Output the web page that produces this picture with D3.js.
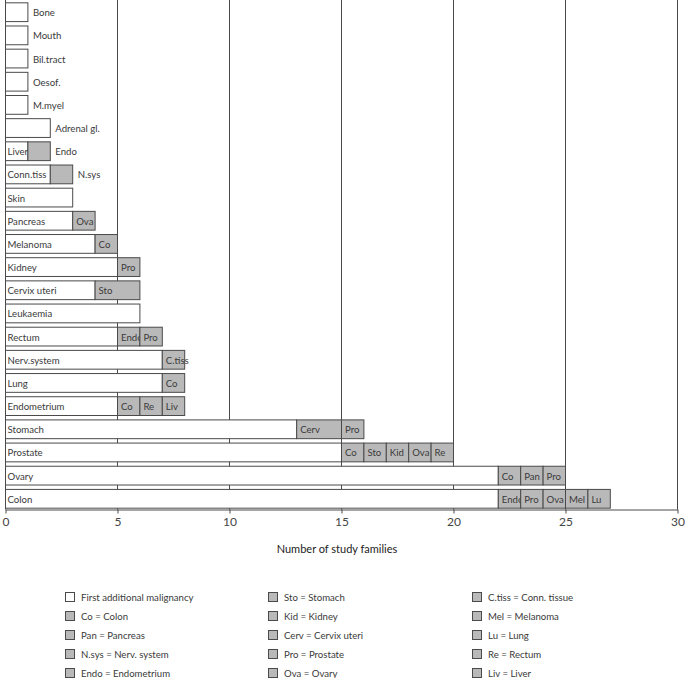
<!DOCTYPE html>
<html><head><meta charset="utf-8">
<script src="https://cdn.jsdelivr.net/npm/d3@7"></script>
<style>body{margin:0;background:#fff;} svg{display:block;}</style>
</head><body>
<script>
const categories = ["Bone","Mouth","Bil.tract","Oesof.","M.myel","Adrenal gl.","Liver","Conn.tiss","Skin","Pancreas","Melanoma","Kidney","Cervix uteri","Leukaemia","Rectum","Nerv.system","Lung","Endometrium","Stomach","Prostate","Ovary","Colon"];
const firstValues = [1,1,1,1,1,2,1,2,3,3,4,5,4,6,5,7,7,5,13,15,22,22];
const addCodes = [[],[],[],[],[],[],["Endo"],["N.sys"],[],["Ova"],["Co"],["Pro"],["Sto"],[],["Endo","Pro"],["C.tiss"],["Co"],["Co","Re","Liv"],["Cerv","Pro"],["Co","Sto","Kid","Ova","Re"],["Co","Pan","Pro"],["Endo","Pro","Ova","Mel","Lu"]];
const addValues = [[],[],[],[],[],[],[1],[1],[],[1],[1],[1],[2],[],[1,1],[1],[1],[1,1,1],[2,1],[1,1,1,1,1],[1,1,1],[1,1,1,1,1]];
const outsideCategoryLabels = ["Bone","Mouth","Bil.tract","Oesof.","M.myel","Adrenal gl."];
const outsideAddLabels = ["Liver","Conn.tiss"];
const xTicks = [0,5,10,15,20,25,30];
const xTitle = "Number of study families";
const legendItems = ["First additional malignancy","Co = Colon","Pan = Pancreas","N.sys = Nerv. system","Endo = Endometrium","Sto = Stomach","Kid = Kidney","Cerv = Cervix uteri","Pro = Prostate","Ova = Ovary","C.tiss = Conn. tissue","Mel = Melanoma","Lu = Lung","Re = Rectum","Liv = Liver"];

const W = 685, H = 678;
const FONT = "Lato, 'DejaVu Sans', sans-serif";
const GRAY = "#b9b9b9", STROKE = "#4a4a4a", TXT = "#3a3a3a";
const svg = d3.select("body").append("svg").attr("width", W).attr("height", H);

const x = d3.scaleLinear().domain([0, 30]).range([5.5, 677.5]);
const axisY = 509.5;
const y = d3.scaleBand().domain(categories).range([0.5, 510.5]).paddingInner(0.19).paddingOuter(0.1);

// gridlines
svg.append("g").selectAll("line").data(xTicks.filter(t => t > 0)).join("line")
  .attr("x1", d => x(d)).attr("x2", d => x(d)).attr("y1", 0).attr("y2", axisY)
  .attr("stroke", STROKE).attr("stroke-width", 1);
svg.append("line").attr("x1", x(0)).attr("x2", x(0)).attr("y1", 0).attr("y2", axisY)
  .attr("stroke", STROKE).attr("stroke-width", 1);

const rows = svg.append("g");
categories.forEach((c, i) => {
  const g = rows.append("g");
  const top = y(c), bh = y.bandwidth(), cy = top + bh / 2 + 0.5;
  const fv = firstValues[i];
  g.append("rect").attr("x", x(0)).attr("y", top).attr("width", x(fv) - x(0)).attr("height", bh)
    .attr("fill", "#fff").attr("stroke", STROKE).attr("stroke-width", 1);
  const outside = outsideCategoryLabels.includes(c);
  let cum = fv;
  const segs = addCodes[i].map((code, j) => { const s = {code, x0: cum, x1: cum + addValues[i][j]}; cum += addValues[i][j]; return s; });
  g.append("text").attr("x", outside ? x(fv) + 5 : x(0) + 2) .attr("y", cy)
    .attr("dominant-baseline", "central").attr("font-family", FONT).attr("font-size", 9.6)
    .attr("fill", TXT).text(c);
  segs.forEach((s, k) => {
    g.append("rect").attr("x", x(s.x0)).attr("y", top).attr("width", x(s.x1) - x(s.x0)).attr("height", bh)
      .attr("fill", GRAY).attr("stroke", STROKE).attr("stroke-width", 1);
    const out = outsideAddLabels.includes(c) && k === segs.length - 1;
    g.append("text").attr("x", out ? x(s.x1) + 5 : x(s.x0) + 3.5).attr("y", cy)
      .attr("dominant-baseline", "central").attr("font-family", FONT).attr("font-size", 9.6)
      .attr("fill", TXT).text(s.code);
  });
});

// x axis
const ax = svg.append("g").attr("transform", `translate(0,${axisY})`)
  .call(d3.axisBottom(x).tickValues(xTicks).tickSize(4).tickPadding(4).tickSizeOuter(0));
ax.select(".domain").attr("stroke", STROKE);
ax.selectAll(".tick line").attr("stroke", STROKE);
ax.selectAll(".tick text").attr("font-family", FONT).attr("font-size", 12).attr("fill", "#444");

svg.append("text").attr("x", 337).attr("y", 548).attr("text-anchor", "middle")
  .attr("dominant-baseline", "central").attr("font-family", FONT).attr("font-size", 11)
  .attr("fill", "#222").text(xTitle);

// legend
const colX = [65, 268, 472];
legendItems.forEach((t, i) => {
  const col = Math.floor(i / 5), row = i % 5;
  const ly = 597 + row * 19;
  svg.append("rect").attr("x", colX[col] + 0.5).attr("y", ly - 4.5).attr("width", 9).attr("height", 9)
    .attr("fill", i === 0 ? "#fff" : GRAY).attr("stroke", STROKE).attr("stroke-width", 1);
  svg.append("text").attr("x", colX[col] + 16).attr("y", ly).attr("dominant-baseline", "central")
    .attr("font-family", FONT).attr("font-size", 9.6).attr("fill", TXT).text(t);
});
</script>
</body></html>
